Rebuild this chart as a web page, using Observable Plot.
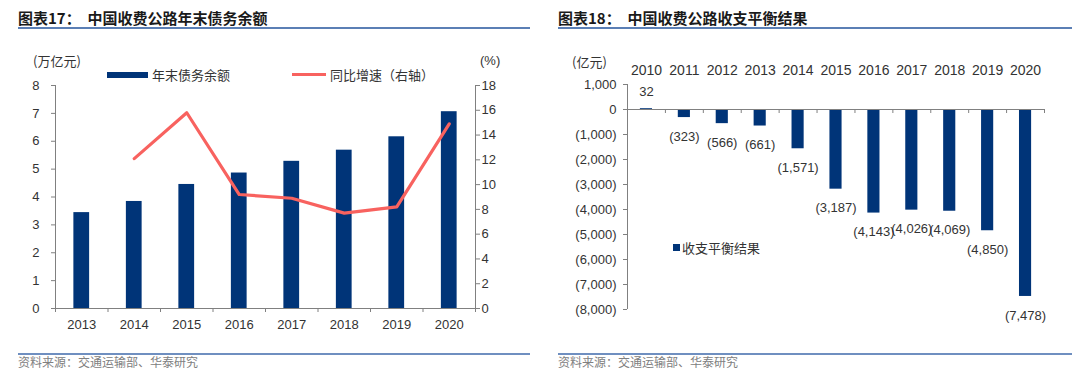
<!DOCTYPE html>
<html>
<head>
<meta charset="utf-8">
<script src="https://cdn.jsdelivr.net/npm/d3@7"></script>
<script src="https://cdn.jsdelivr.net/npm/@observablehq/plot@0.6"></script>
<style>
  body { margin: 0; background: #fff; }
  #wrap { position: relative; width: 1080px; height: 382px; overflow: hidden; background: #fff;
          font-family: "Liberation Sans", Arial, "Noto Sans CJK SC", sans-serif; color: #333; }
  .abs { position: absolute; white-space: nowrap; line-height: 1; }
  .cjk { font-family: "Noto Sans CJK SC", sans-serif; }
  .title { font-size: 15px; font-weight: bold; color: #1a1a1a; top: 10px; }
  .hline { position: absolute; height: 2px; background: #5b7fb5; }
  .src { font-size: 12px; color: #808080; top: 356px; }
  .plot { position: absolute; top: 0; }
</style>
</head>
<body>
<div id="wrap">
  <div class="abs cjk title" style="left:18px;">图表17：&nbsp;&nbsp;中国收费公路年末债务余额</div>
  <div class="abs cjk title" style="left:558px;">图表18：&nbsp;&nbsp;中国收费公路收支平衡结果</div>
  <div class="hline" style="left:18px; width:512px; top:27px;"></div>
  <div class="hline" style="left:558px; width:514px; top:27px;"></div>
  <div class="hline" style="left:18px; width:512px; top:353px; height:1.5px; background:#6f8fc0;"></div>
  <div class="hline" style="left:558px; width:514px; top:353px; height:1.5px; background:#6f8fc0;"></div>
  <div class="abs cjk src" style="left:18px;">资料来源：交通运输部、华泰研究</div>
  <div class="abs cjk src" style="left:558px;">资料来源：交通运输部、华泰研究</div>

  <div id="left" class="plot" style="left:0;"></div>
  <div id="right" class="plot" style="left:540px;"></div>

  <div class="abs cjk" style="left:33px; top:54px; font-size:13px; color:#333;">(万亿元)</div>
  <div class="abs" style="left:480px; top:54px; font-size:13px; color:#333;">(%)</div>
  <div class="abs" style="left:107px; top:72px; width:41px; height:6px; background:#003478;"></div>
  <div class="abs cjk" style="left:152px; top:68px; font-size:13px; color:#333;">年末债务余额</div>
  <div class="abs" style="left:292px; top:73px; width:34px; height:3px; background:#f8625f;"></div>
  <div class="abs cjk" style="left:330px; top:68px; font-size:13px; color:#333;">同比增速（右轴）</div>

  <div class="abs cjk" style="left:572px; top:55px; font-size:13px; color:#333;">(亿元)</div>
  <div class="abs" style="left:673px; top:244px; width:7px; height:7px; background:#003478;"></div>
  <div class="abs cjk" style="left:682px; top:241px; font-size:13px; color:#333;">收支平衡结果</div>
</div>
<script>
// ---- Data ----
const debtYears = [2013, 2014, 2015, 2016, 2017, 2018, 2019, 2020];
const debtValues = [3.44, 3.84, 4.45, 4.86, 5.28, 5.68, 6.16, 7.06];   // 万亿元
const growthYears = [2014, 2015, 2016, 2017, 2018, 2019, 2020];
const growthValues = [12.1, 15.8, 9.2, 8.9, 7.7, 8.2, 14.9];          // %
const leftTicks = [0, 1, 2, 3, 4, 5, 6, 7, 8];
const rightTicks = [0, 2, 4, 6, 8, 10, 12, 14, 16, 18];

const balYears = [2010, 2011, 2012, 2013, 2014, 2015, 2016, 2017, 2018, 2019, 2020];
const balValues = [32, -323, -566, -661, -1571, -3187, -4143, -4026, -4069, -4850, -7478]; // 亿元
const balTicks = [1000, 0, -1000, -2000, -3000, -4000, -5000, -6000, -7000, -8000];

// ---- Derived tables ----
const debt = debtYears.map((year, i) => ({year, value: debtValues[i]}));
const growth = growthYears.map((year, i) => ({year, value: growthValues[i]}));
const bal = balYears.map((year, i) => ({year, value: balValues[i]}));

const NAVY = "#003478", RED = "#f8625f", AX = "#808080";
const scaleR = 8 / 18;
const fmtParen = v => v < 0 ? `(${d3.format(",")(-v)})` : d3.format(",")(v);

const leftBounds = d3.range(debtYears[0] - 0.5, debtYears[debtYears.length - 1] + 1, 1);
const rightBounds = d3.range(balYears[0] - 0.5, balYears[balYears.length - 1] + 1, 1);

const left = Plot.plot({
  width: 540, height: 382,
  marginLeft: 55, marginRight: 65, marginTop: 85, marginBottom: 74,
  style: {fontFamily: "'Liberation Sans', Arial, sans-serif", fontSize: "13px", color: "#333", background: "transparent"},
  x: {type: "linear", domain: [leftBounds[0], leftBounds[leftBounds.length - 1]], label: null},
  y: {domain: [0, 8], label: null},
  marks: [
    Plot.rectY(debt, {x1: d => d.year - 0.15, x2: d => d.year + 0.15, y: "value", fill: NAVY}),
    Plot.line(growth, {x: "year", y: d => d.value * scaleR, stroke: RED, strokeWidth: 3.2}),
    Plot.ruleX([leftBounds[0], leftBounds[leftBounds.length - 1]], {y1: 0, y2: 8, stroke: AX}),
    Plot.ruleY([0], {stroke: AX}),
    Plot.axisY(leftTicks, {label: null, tickSize: 4, tickPadding: 12, stroke: AX, tickFormat: d => d}),
    Plot.axisY(rightTicks.map(v => v * scaleR), {label: null, anchor: "right", tickSize: 4, tickPadding: 2, stroke: AX, tickFormat: d => Math.round(d / scaleR)}),
    Plot.axisX(leftBounds, {label: null, tickSize: 4, stroke: AX, tickFormat: () => ""}),
    Plot.axisX(debtYears, {label: null, tickSize: 0, tickPadding: 11, tickFormat: d => String(d)})
  ]
});
document.getElementById("left").append(left);

const right = Plot.plot({
  width: 540, height: 382,
  marginLeft: 87, marginRight: 36, marginTop: 84, marginBottom: 73,
  style: {fontFamily: "'Liberation Sans', Arial, sans-serif", fontSize: "13px", color: "#333", background: "transparent"},
  x: {type: "linear", domain: [rightBounds[0], rightBounds[rightBounds.length - 1]], label: null},
  y: {domain: [-8000, 1000], label: null},
  marks: [
    Plot.rectY(bal, {x1: d => d.year - 0.16, x2: d => d.year + 0.16, y: "value", fill: NAVY}),
    Plot.ruleX([rightBounds[0]], {y1: -8000, y2: 1000, stroke: AX}),
    Plot.ruleY([0], {stroke: AX}),
    Plot.ruleX(rightBounds.slice(1), {y1: 0, y2: 0, insetBottom: -4, stroke: AX}),
    Plot.axisY(balTicks, {label: null, tickSize: 4, tickPadding: 7, stroke: AX, tickFormat: fmtParen}),
    Plot.axisX(balYears, {label: null, anchor: "top", tickSize: 0, tickPadding: 10, fontSize: 14, tickFormat: d => String(d)}),
    Plot.text(bal.filter(d => d.value >= 0), {x: "year", y: "value", text: d => fmtParen(d.value), dy: -17, fontSize: 13, fill: "#333"}),
    Plot.text(bal.filter(d => d.value < 0), {x: "year", y: "value", text: d => fmtParen(d.value), dy: 19, fontSize: 13, fill: "#333"})
  ]
});
document.getElementById("right").append(right);
</script>
</body>
</html>
